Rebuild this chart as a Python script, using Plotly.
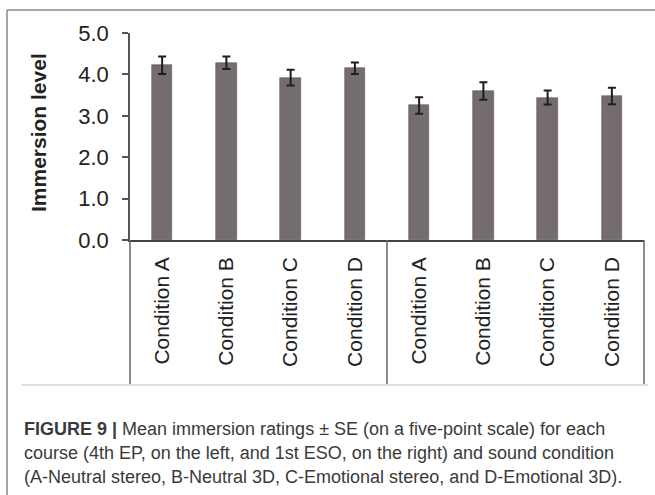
import plotly.graph_objects as go

# Mean immersion ratings and standard errors per course and sound condition
conditions = ["Condition A", "Condition B", "Condition C", "Condition D",
              "Condition A", "Condition B", "Condition C", "Condition D"]
means = [4.22, 4.28, 3.92, 4.15, 3.25, 3.60, 3.44, 3.48]
se = [0.21, 0.15, 0.19, 0.14, 0.20, 0.21, 0.17, 0.20]
y_ticks = [0, 1, 2, 3, 4, 5]
y_tick_labels = ["0.0", "1.0", "2.0", "3.0", "4.0", "5.0"]

W, H = 655, 495
L, R = 130, 644          # plot area, px
T, B = 33, 240

def px_x(p):
    return (p - L) / (R - L)

def px_y(p):
    return (B - p) / (B - T)

positions = list(range(len(means)))

fig = go.Figure()
fig.add_trace(go.Bar(
    x=positions, y=means, width=0.32,
    marker=dict(color="#756d6d", line=dict(color="#5f5858", width=0.6)),
    error_y=dict(type="data", array=se, visible=True,
                 color="#1e1e1e", thickness=2, width=4),
    showlegend=False,
))

font_family = "Liberation Sans, Arial, sans-serif"

fig.update_layout(
    width=W, height=H,
    margin=dict(l=L, r=W - R, t=T, b=H - B, pad=0),
    paper_bgcolor="white", plot_bgcolor="white",
    font=dict(family=font_family, color="#333333"),
    bargap=0,
    xaxis=dict(
        range=[-0.5, len(means) - 0.5],
        tickmode="array", tickvals=positions, ticktext=conditions,
        tickangle=-90, ticks="", showgrid=False, zeroline=False,
        showline=True, linecolor="#444444", linewidth=1.5,
        tickfont=dict(size=21, color="#222222"),
        ticklabelstandoff=7,
    ),
    yaxis=dict(
        range=[0, 5], tickmode="array", tickvals=y_ticks, ticktext=y_tick_labels,
        ticks="outside", ticklen=6, tickcolor="#555555", tickwidth=1.5,
        showgrid=False, zeroline=False,
        showline=True, linecolor="#555555", linewidth=1.5,
        tickfont=dict(size=22, color="#222222"),
        ticklabelstandoff=9,
    ),
)

# y-axis title
fig.add_annotation(
    text="<b>Immersion level</b>", textangle=-90,
    xref="paper", yref="paper", x=px_x(38), y=px_y(133),
    xanchor="center", yanchor="middle", showarrow=False,
    font=dict(size=21, color="#222222", family=font_family),
)

# group dividers under the category axis
for xp in [L, (L + R) / 2, R]:
    fig.add_shape(type="line", xref="paper", yref="paper",
                  x0=px_x(xp), x1=px_x(xp), y0=px_y(B), y1=px_y(385),
                  line=dict(color="#666666", width=1.5))

# lower edge of the chart panel
fig.add_shape(type="line", xref="paper", yref="paper",
              x0=px_x(21), x1=px_x(648), y0=px_y(385), y1=px_y(385),
              line=dict(color="#e2e2e2", width=2))

# outer frame (left and top edges)
fig.add_shape(type="line", xref="paper", yref="paper",
              x0=px_x(7), x1=px_x(7), y0=px_y(10), y1=px_y(500),
              line=dict(color="#8a8a8a", width=1.5))
fig.add_shape(type="line", xref="paper", yref="paper",
              x0=px_x(7), x1=px_x(660), y0=px_y(10), y1=px_y(10),
              line=dict(color="#8a8a8a", width=1.5))

# figure caption
caption_lines = [
    "<b>FIGURE 9 |</b> Mean immersion ratings \u00b1 SE (on a five-point scale) for each",
    "course (4th EP, on the left, and 1st ESO, on the right) and sound condition",
    "(A-Neutral stereo, B-Neutral 3D, C-Emotional stereo, and D-Emotional 3D).",
]
for i, line in enumerate(caption_lines):
    fig.add_annotation(
        text=line, xref="paper", yref="paper",
        x=px_x(22), y=px_y(429 + 24 * i),
        xanchor="left", yanchor="middle", showarrow=False,
        font=dict(size=18, color="#3a3a3a", family=font_family),
    )

fig.write_html("out.html")
